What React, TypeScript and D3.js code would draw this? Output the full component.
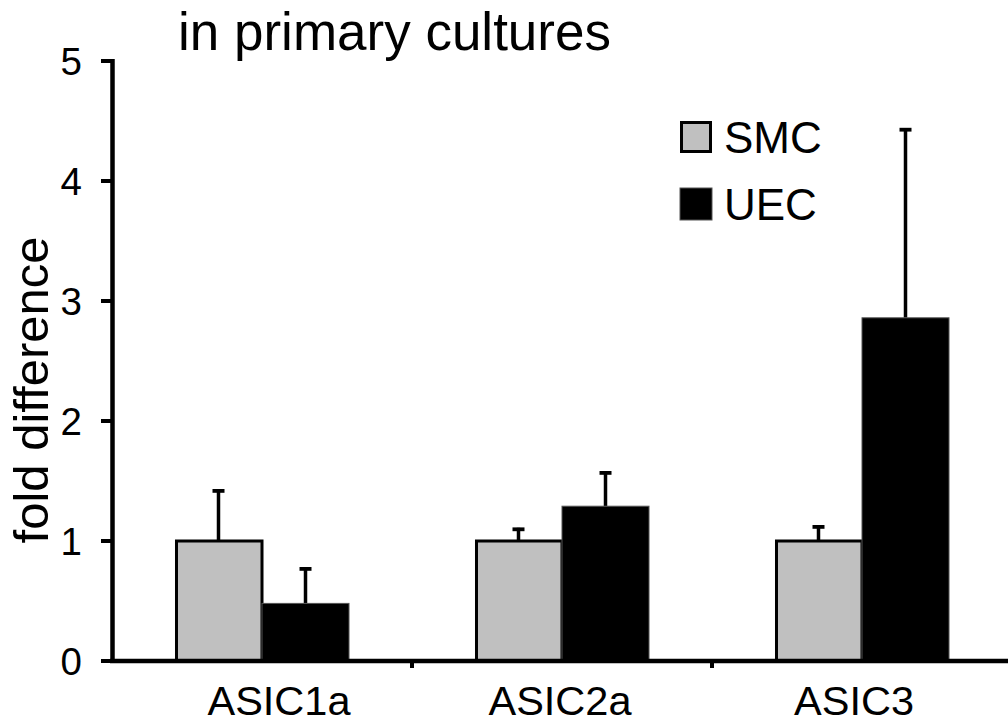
import React from "react";
import * as d3 from "d3";

const categories = ["ASIC1a", "ASIC2a", "ASIC3"];
const seriesNames = ["SMC", "UEC"];
const smcValues = [1.0, 1.0, 1.0];
const smcErrors = [0.43, 0.11, 0.13];
const uecValues = [0.48, 1.29, 2.86];
const uecErrors = [0.3, 0.29, 1.58];
const yTicks = [0, 1, 2, 3, 4, 5];
const titleText = "in primary cultures";
const yLabel = "fold difference";

const W = 1008;
const H = 724;
const FONT = "'Liberation Sans', Arial, Helvetica, sans-serif";
const fills: Record<string, string> = { SMC: "#c0c0c0", UEC: "#000000" };
const labelNudge: Record<string, number> = { ASIC1a: 17, ASIC2a: -2, ASIC3: -8 };

export default function App() {
  const x0 = d3.scaleBand<string>().domain(categories).range([112, 1012]).paddingInner(0).paddingOuter(0);
  const x1 = d3.scaleBand<string>().domain(seriesNames).range([0, x0.bandwidth()]).paddingInner(0).paddingOuter(0.724);
  const y = d3.scaleLinear().domain([0, 5]).range([661, 61]);

  const rows = categories.map((c, i) => ({
    cat: c,
    items: [
      { s: "SMC", v: smcValues[i], e: smcErrors[i] },
      { s: "UEC", v: uecValues[i], e: uecErrors[i] },
    ],
  }));

  return (
    <svg width={W} height={H} style={{ position: "absolute", left: 0, top: 0, background: "#fff" }} fontFamily={FONT}>
      <rect x={0} y={0} width={W} height={H} fill="#fff" />
      <text x={178} y={50} fontSize={53} fill="#000">{titleText}</text>
      <text transform={`translate(48, 390) rotate(-90)`} textAnchor="middle" fontSize={49} fill="#000">{yLabel}</text>

      {rows.map((r) =>
        r.items.map((it) => {
          const bx = (x0(r.cat) as number) + (x1(it.s) as number);
          const bw = x1.bandwidth();
          const cx = bx + bw / 2;
          const top = y(it.v);
          const et = y(it.v + it.e);
          return (
            <g key={r.cat + it.s}>
              <line x1={cx} x2={cx} y1={top} y2={et} stroke="#000" strokeWidth={3.5} />
              <line x1={cx - 6} x2={cx + 6} y1={et + 1.5} y2={et + 1.5} stroke="#000" strokeWidth={3.8} />
              {it.s === "SMC" ? (
                <rect x={bx + 1.5} y={top} width={bw - 1.5} height={y(0) - top} fill={fills.SMC} stroke="#000" strokeWidth={3} />
              ) : (
                <rect x={bx} y={top} width={bw} height={y(0) - top} fill={fills.UEC} stroke="#555" strokeWidth={1} />
              )}
            </g>
          );
        })
      )}

      {/* y axis */}
      <line x1={112.5} x2={112.5} y1={59} y2={663} stroke="#000" strokeWidth={4.5} />
      {yTicks.map((t) => (
        <g key={t}>
          <line x1={101} x2={112} y1={y(t)} y2={y(t)} stroke="#000" strokeWidth={4} />
          <text x={82} y={y(t)} dy="0.36em" textAnchor="end" fontSize={38.5} fill="#000">{t}</text>
        </g>
      ))}

      {/* x axis */}
      <line x1={110} x2={W} y1={661} y2={661} stroke="#000" strokeWidth={4.5} />
      {categories.map((c, i) => {
        const xs = x0(c) as number;
        return (
          <g key={c}>
            {i > 0 && <line x1={xs} x2={xs} y1={661} y2={668} stroke="#000" strokeWidth={4} />}
            <text x={xs + x0.bandwidth() / 2 + labelNudge[c]} y={715} textAnchor="middle" fontSize={41.5} fill="#000">{c}</text>
          </g>
        );
      })}

      {/* legend */}
      {seriesNames.map((s, i) => {
        const ly = 121 + i * 67;
        return (
          <g key={s}>
            {s === "SMC" ? (
              <rect x={681.5} y={ly + 1.5} width={29} height={29} fill={fills.SMC} stroke="#000" strokeWidth={3} />
            ) : (
              <rect x={680} y={ly} width={32} height={32} fill={fills.UEC} stroke="#555" strokeWidth={1} />
            )}
            <text x={724} y={ly + 32} fontSize={44} fill="#000">{s}</text>
          </g>
        );
      })}
    </svg>
  );
}
